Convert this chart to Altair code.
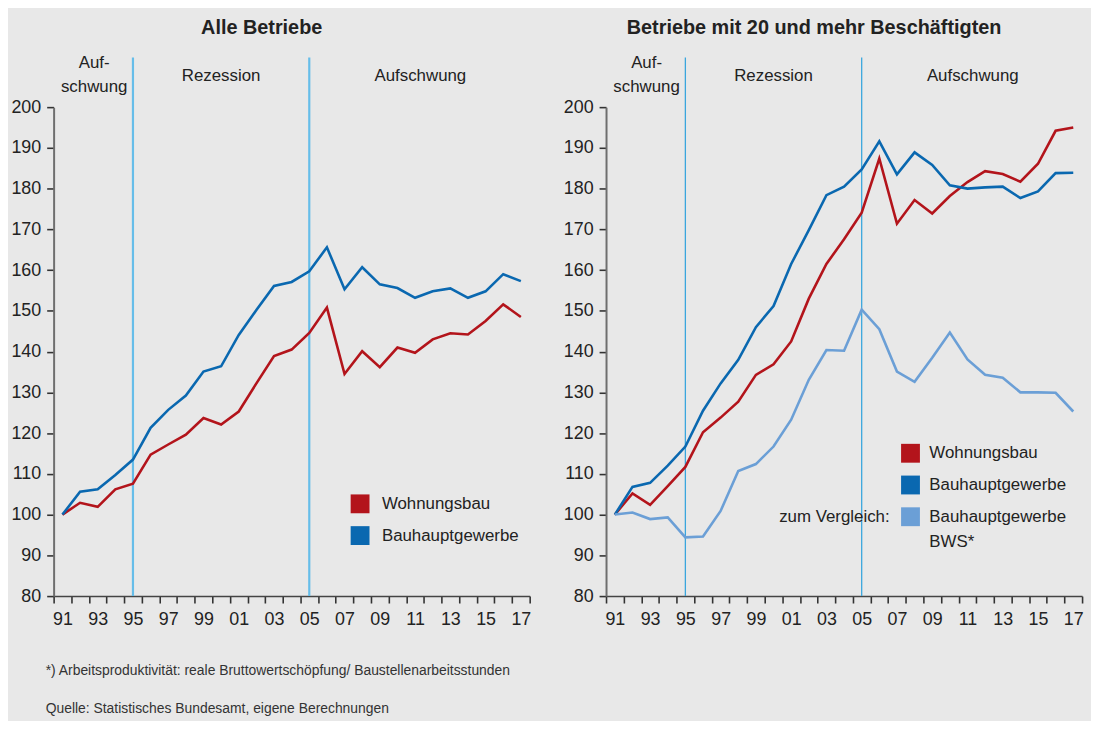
import altair as alt
import pandas as pd

# ---------------- data ----------------
years = list(range(1991, 2018))

left_wohnungsbau = [100.0, 102.9, 101.9, 106.2, 107.6, 114.7, 117.2, 119.6, 123.7, 122.1,
                    125.3, 132.2, 138.9, 140.5, 144.6, 150.8, 134.5, 140.1, 136.2, 141.0,
                    139.7, 143.0, 144.5, 144.2, 147.5, 151.6, 148.5]
left_bauhaupt = [100.0, 105.6, 106.2, 109.7, 113.5, 121.3, 125.7, 129.2, 135.1, 136.4,
                 144.1, 150.2, 156.1, 157.1, 159.7, 165.6, 155.3, 160.7, 156.5, 155.6,
                 153.2, 154.8, 155.5, 153.2, 154.8, 159.0, 157.3]

right_wohnungsbau = [100.0, 105.2, 102.4, 107.0, 111.7, 120.2, 123.8, 127.7, 134.3, 136.9,
                     142.5, 153.0, 161.5, 167.6, 174.1, 187.4, 171.4, 177.2, 173.9, 178.2,
                     181.6, 184.3, 183.6, 181.7, 186.1, 194.2, 195.0]
right_bauhaupt = [100.0, 106.8, 107.8, 112.0, 116.7, 125.5, 132.2, 138.0, 146.0, 151.2,
                  161.5, 169.8, 178.4, 180.5, 184.7, 191.6, 183.5, 188.9, 185.8, 180.8,
                  180.0, 180.3, 180.5, 177.7, 179.3, 183.8, 183.9]
right_bws = [100.0, 100.5, 98.9, 99.3, 94.4, 94.6, 100.9, 110.7, 112.4, 116.7,
             123.3, 133.1, 140.4, 140.2, 150.3, 145.5, 135.1, 132.6, 138.5, 144.7,
             138.1, 134.3, 133.6, 130.0, 130.0, 129.9, 125.3]

series_names = ["Wohnungsbau", "Bauhauptgewerbe", "Bauhauptgewerbe BWS*"]
series_colors = ["#b3141b", "#0a68b0", "#6b9fd6"]

phase_breaks = [1995, 2005]
phase_two_line = ["Auf-", "schwung"]
phase_two_line_center = 1992.8
phase_names = ["Rezession", "Aufschwung"]
phase_centers = [2000.0, 2011.3]

y_ticks = list(range(80, 201, 10))
x_ticks = [y - 0.5 for y in range(1991, 2019)]

titles = ["Alle Betriebe", "Betriebe mit 20 und mehr Beschäftigten"]
title_center = 2002.3
footnote = "*) Arbeitsproduktivität: reale Bruttowertschöpfung/ Baustellenarbeitsstunden"
source = "Quelle: Statistisches Bundesamt, eigene Berechnungen"

# ---------------- styling ----------------
W, H = 480, 493
HALF_STEP = W / 27 / 2
FONT = "Liberation Sans"
TXT = "#222222"
AXIS = "#6e6e6e"
TICK = "#333333"

x_scale = alt.Scale(domain=[1990.5, 2017.5], nice=False, zero=False)
y_scale = alt.Scale(domain=[80, 200], nice=False, zero=False)

x_axis = alt.Axis(values=x_ticks, title=None, grid=False, ticks=True,
                  labelExpr="(floor(datum.value + 0.5) % 2 == 1 && datum.value < 2017) ? slice(toString(floor(datum.value + 0.5)), 2) : ''",
                  labelOffset=HALF_STEP, labelFlush=False, labelOverlap=False, labelBound=False,
                  labelFontSize=18, labelColor=TXT, labelFont=FONT, labelPadding=8,
                  tickSize=7, tickColor=TICK, tickWidth=1.6, tickOpacity=1,
                  domainColor="#444444", domainWidth=1.6)
y_axis = alt.Axis(values=y_ticks, title=None, grid=False, ticks=True,
                  labelOverlap=False, labelFlush=False,
                  labelFontSize=18, labelColor=TXT, labelFont=FONT, labelPadding=6,
                  tickSize=7, tickColor=TICK, tickWidth=1.6, tickOpacity=1,
                  domainColor=AXIS, domainWidth=2.0)

X = alt.X("year:Q", scale=x_scale, axis=x_axis)


def text_layer(xs, texts, yval, size, weight="normal"):
    df = pd.DataFrame({"year": xs, "t": texts})
    return alt.Chart(df).mark_text(
        font=FONT, fontSize=size, color=TXT, baseline="middle", align="center", fontWeight=weight
    ).encode(x=X, y=alt.value(yval), text="t:N")


def panel(series_data, title, rule_width, rule_color, legend_y, legend_sq_x, legend_tx_x, extra_layers):
    n = len(series_data)
    names = series_names[:n]
    rows = []
    for name, vals in zip(names, series_data):
        for yr, v in zip(years, vals):
            rows.append({"year": yr, "value": v, "series": name})
    df = pd.DataFrame(rows)
    cscale = alt.Scale(domain=names, range=series_colors[:n])

    rules = alt.Chart(pd.DataFrame({"year": phase_breaks})).mark_rule(
        color=rule_color, strokeWidth=rule_width
    ).encode(x=X, y=alt.value(-50), y2=alt.value(H))

    ph1 = text_layer([phase_two_line_center], [phase_two_line[0]], -44, 17)
    ph2 = text_layer([phase_two_line_center], [phase_two_line[1]], -20, 17)
    ph3 = text_layer(phase_centers, phase_names, -31, 17)
    ttl = text_layer([title_center], [title], -80, 20, weight="bold")

    lines = alt.Chart(df).mark_line(strokeWidth=2.6).encode(
        x=X,
        y=alt.Y("value:Q", scale=y_scale, axis=y_axis),
        color=alt.Color("series:N", scale=cscale, legend=None),
        order=alt.Order("series:N", sort="descending"),
    )

    layers = [rules, ph1, ph2, ph3, ttl, lines]
    for i, name in enumerate(names):
        sq = alt.Chart(pd.DataFrame({"series": [name]})).mark_square(size=361, opacity=1, filled=True).encode(
            x=alt.value(legend_sq_x), y=alt.value(legend_y[i]),
            color=alt.Color("series:N", scale=cscale, legend=None),
        )
        label = name.replace(" BWS*", "")
        tx = alt.Chart(pd.DataFrame({"t": [label]})).mark_text(
            font=FONT, fontSize=17, color=TXT, align="left", baseline="middle"
        ).encode(x=alt.value(legend_tx_x), y=alt.value(legend_y[i]), text="t:N")
        layers += [sq, tx]
    layers += extra_layers
    return alt.layer(*layers).properties(width=W, height=H)


def plain_text(t, x, y, size, align="left", color=TXT):
    return alt.Chart(pd.DataFrame({"t": [t]})).mark_text(
        font=FONT, fontSize=size, color=color, align=align, baseline="middle"
    ).encode(x=alt.value(x), y=alt.value(y), text="t:N")


left_extra = [
    plain_text(footnote, -8, 569, 14, color="#333333"),
    plain_text(source, -8, 607, 14, color="#333333"),
]
right_extra = [
    plain_text("zum Vergleich:", 286, 413, 17, align="right"),
    plain_text("BWS*", 326, 439, 17),
]

left = panel([left_wohnungsbau, left_bauhaupt], titles[0], 2.2, "#66bde9",
             [400, 432], 309, 331, left_extra)
right = panel([right_wohnungsbau, right_bauhaupt, right_bws], titles[1], 1.3, "#3aa6dd",
              [349, 381, 413], 307, 326, right_extra)

chart = alt.hconcat(left, right, spacing=77, bounds="flush").resolve_scale(color="independent").properties(
    background="#e8e8e8",
    padding={"left": 2, "top": 7, "right": 0, "bottom": 2},
).configure_view(stroke=None)

chart.save("out.html", embed_options={"renderer": "svg", "actions": False})
